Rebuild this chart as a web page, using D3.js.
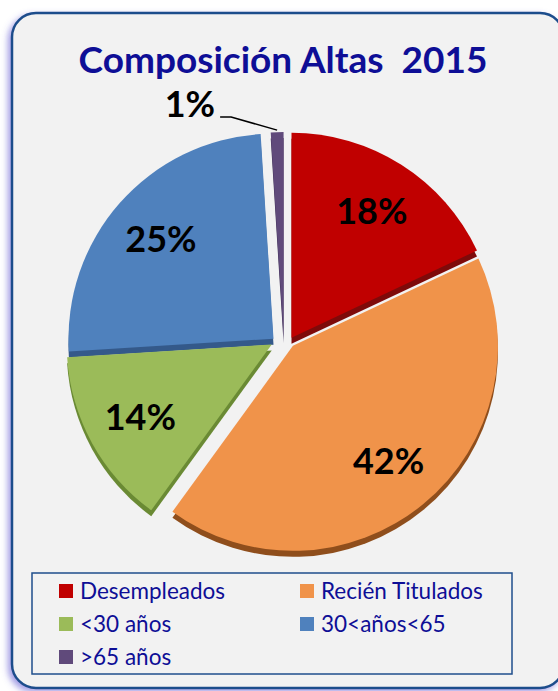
<!DOCTYPE html>
<html lang="es">
<head>
<meta charset="utf-8">
<title>Composición Altas 2015</title>
<script src="https://d3js.org/d3.v7.min.js"></script>
<style>
  body { margin: 0; background: #fff; }
  svg { display: block; font-family: Lato, "Open Sans", sans-serif; }
</style>
</head>
<body>
<div id="chart"></div>
<script>
// data
var categories = ["Desempleados", "Recién Titulados", "<30 años", "30<años<65", ">65 años"];
var values = [18, 42, 14, 25, 1];
var labels = ["18%", "42%", "14%", "25%", "1%"];
var colors = ["#C00000", "#F0934A", "#9BBB59", "#4F81BD", "#604A7B"];
var sideColors = ["#7E0A0A", "#8F4E1C", "#6A8A34", "#34598A", "#3E2F55"];

var width = 558, height = 691;

var svg = d3.select("#chart")
  .append("svg")
    .attr("width", width)
    .attr("height", height);

var defs = svg.append("defs");
var shadow = defs.append("filter").attr("id", "panelShadow")
    .attr("x", "-10%").attr("y", "-10%").attr("width", "120%").attr("height", "120%");
shadow.append("feDropShadow")
    .attr("dx", -3).attr("dy", 3).attr("stdDeviation", 3)
    .attr("flood-color", "#5a4fd0").attr("flood-opacity", 0.55);

// panel (runs off the right edge like the original)
svg.append("rect")
    .attr("x", 12).attr("y", 13)
    .attr("width", 552).attr("height", 675)
    .attr("rx", 24)
    .attr("fill", "#F2F2F2")
    .attr("stroke", "#1F4E8C")
    .attr("stroke-width", 2.5)
    .attr("filter", "url(#panelShadow)");

// title
svg.append("text")
    .attr("x", 283).attr("y", 73)
    .attr("text-anchor", "middle")
    .style("white-space", "pre")
    .attr("font-size", 37)
    .attr("font-weight", "bold")
    .attr("fill", "#0E0E96")
    .text("Composición Altas  2015");

// pie
var cx = 284, cy = 342, radius = 205, thick = 6;
var arcs = d3.pie().sort(null).value(function(d) { return d; })(values);
var arc = d3.arc().innerRadius(0).outerRadius(radius);
var labelArc = d3.arc().innerRadius(150).outerRadius(150);

function offset(d) {
  var mid = (d.startAngle + d.endAngle) / 2;
  return [14 * Math.sin(mid), -5 * Math.cos(mid)];
}

var g = svg.append("g").attr("transform", "translate(" + cx + "," + cy + ")");

// side faces first
g.selectAll("path.side")
  .data(arcs).enter()
  .append("path")
    .attr("class", "side")
    .attr("d", arc)
    .attr("fill", function(d, i) { return sideColors[i]; })
    .attr("transform", function(d) {
      var o = offset(d);
      return "translate(" + o[0] + "," + (o[1] + thick) + ")";
    });

g.selectAll("path.top")
  .data(arcs).enter()
  .append("path")
    .attr("class", "top")
    .attr("d", arc)
    .attr("fill", function(d, i) { return colors[i]; })
    .attr("transform", function(d) {
      var o = offset(d);
      return "translate(" + o[0] + "," + o[1] + ")";
    });

// labels inside big slices
g.selectAll("text.pct")
  .data(arcs.filter(function(d) { return d.value >= 3; })).enter()
  .append("text")
    .attr("class", "pct")
    .attr("x", function(d) { return labelArc.centroid(d)[0] + offset(d)[0]; })
    .attr("y", function(d) { return labelArc.centroid(d)[1] + offset(d)[1]; })
    .attr("dy", "0.36em")
    .attr("text-anchor", "middle")
    .attr("font-size", 36)
    .attr("font-weight", "bold")
    .attr("fill", "#000")
    .text(function(d) { return labels[d.index]; });

// small slice: outside label with leader line
arcs.filter(function(d) { return d.value < 3; }).forEach(function(d) {
  var o = offset(d);
  var mid = (d.startAngle + d.endAngle) / 2;
  var p0 = [o[0] + radius * Math.sin(mid), o[1] - radius * Math.cos(mid) - 2];
  var p1 = [p0[0] - 46, p0[1] - 13];
  var p2 = [p1[0] - 11, p1[1]];
  g.append("polyline")
    .attr("points", [p0, p1, p2].map(function(p) { return p.join(","); }).join(" "))
    .attr("fill", "none")
    .attr("stroke", "#000")
    .attr("stroke-width", 1.5);
  g.append("text")
    .attr("x", p2[0] - 5).attr("y", p2[1])
    .attr("text-anchor", "end")
    .attr("font-size", 36)
    .attr("font-weight", "bold")
    .attr("fill", "#000")
    .text(labels[d.index]);
});

// legend
var legend = svg.append("g");
legend.append("rect")
    .attr("x", 32).attr("y", 573)
    .attr("width", 480).attr("height", 101)
    .attr("fill", "none")
    .attr("stroke", "#1F4E8C")
    .attr("stroke-width", 1.5);

var items = legend.selectAll("g.item")
  .data(categories).enter()
  .append("g")
    .attr("class", "item")
    .attr("transform", function(d, i) {
      return "translate(" + (i % 2 ? 300 : 59) + "," + (591 + Math.floor(i / 2) * 33) + ")";
    });

items.append("rect")
    .attr("x", 0).attr("y", -7)
    .attr("width", 14).attr("height", 14)
    .attr("fill", function(d, i) { return colors[i]; });

items.append("text")
    .attr("x", 21).attr("dy", "0.36em")
    .attr("font-size", 22.5)
    .attr("fill", "#0E0E96")
    .text(function(d) { return d; });
</script>
</body>
</html>
